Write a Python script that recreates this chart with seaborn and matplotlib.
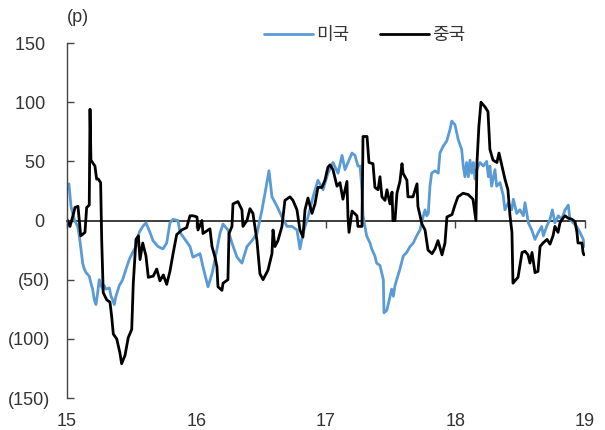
import matplotlib
matplotlib.use("Agg")
import matplotlib.pyplot as plt
import seaborn as sns
import pandas as pd

# ---- data (x in years since 2015 -> axis labels 15..19) ----
us_t = [0.000, 0.015, 0.031, 0.056, 0.083, 0.095, 0.108, 0.121, 0.134, 0.147, 0.172, 0.185,
        0.198, 0.211, 0.224, 0.237, 0.249, 0.263, 0.276, 0.288, 0.301, 0.327, 0.340, 0.353,
        0.365, 0.378, 0.404, 0.430, 0.456, 0.481, 0.507, 0.533, 0.558, 0.585, 0.610,
        0.641, 0.664, 0.703, 0.741, 0.770, 0.795, 0.819, 0.857, 0.873, 0.911, 0.950,
        0.973, 1.027, 1.050, 1.089, 1.120, 1.143, 1.181, 1.205, 1.243, 1.274, 1.313, 1.351,
        1.390, 1.429, 1.467, 1.506, 1.529, 1.560, 1.583, 1.622, 1.660, 1.699, 1.737, 1.776,
        1.799, 1.822, 1.861, 1.900, 1.938, 1.977, 2.015, 2.054, 2.093, 2.124, 2.147, 2.170,
        2.201, 2.224, 2.247, 2.263, 2.276, 2.286, 2.314, 2.340, 2.353, 2.378, 2.391, 2.417,
        2.430, 2.443, 2.448, 2.469, 2.489, 2.507, 2.520, 2.533, 2.546, 2.571, 2.597, 2.623,
        2.649, 2.674, 2.700, 2.726, 2.752, 2.765, 2.778, 2.790, 2.803, 2.816, 2.842, 2.867,
        2.880, 2.906, 2.932, 2.958, 2.971, 2.996, 3.022, 3.048, 3.060, 3.073, 3.086, 3.099,
        3.112, 3.125, 3.138, 3.151, 3.164, 3.189, 3.215, 3.241, 3.254, 3.266, 3.279, 3.305,
        3.318, 3.344, 3.369, 3.382, 3.408, 3.434, 3.447, 3.473, 3.498, 3.524, 3.537, 3.563,
        3.589, 3.614, 3.640, 3.666, 3.679, 3.704, 3.730, 3.748, 3.768, 3.794, 3.820, 3.846,
        3.871, 3.884, 3.910, 3.936, 3.961, 3.987, 3.992]
us_v = [27, 31, 12, 1, -5, -13, -24, -36, -41, -44, -47, -53,
        -58, -67, -71, -61, -50, -55, -58, -55, -58, -57, -64, -67,
        -71, -64, -55, -50, -41, -33, -27, -22, -10, -5, -2,
        -10, -17, -22, -24, -19, -2, 1, 0, -10, -16, -22,
        -31, -28, -39, -56, -45, -33, -11, -3, -8, -19, -31, -36,
        -22, -17, -11, 9, 23, 42, 20, 12, 3, -5, -5, -8,
        -24, -11, 3, 20, 34, 26, 40, 49, 40, 55, 43, 49,
        57, 55, 46, 46, 29, 4, -13, -19, -24, -30, -36, -38,
        -44, -50, -78, -76, -67, -58, -64, -55, -50, -41, -30, -27,
        -22, -19, -13, -8, 4, 9, 4, 6, 29, 40, 42, 40,
        57, 63, 67, 77, 84, 81, 68, 60, 46, 37, 49, 37,
        51, 40, 49, 35, 43, 49, 46, 50, 37, 46, 29, 43,
        29, 32, 21, 9, 15, 9, 18, 6, 9, 4, 15, -2,
        -8, -16, -10, -5, -13, -5, 1, 9, -2, 4, 1, 9,
        13, 1, -2, -5, -10, -16, -22]

cn_t = [0.000, 0.023, 0.036, 0.046, 0.062, 0.085, 0.106, 0.139, 0.152, 0.172, 0.178, 0.185,
        0.216, 0.229, 0.242, 0.260, 0.268, 0.280, 0.307, 0.332, 0.345, 0.358, 0.384, 0.409,
        0.422, 0.448, 0.473, 0.500, 0.512, 0.533, 0.551, 0.564, 0.585, 0.610, 0.628, 0.666,
        0.693, 0.718, 0.744, 0.770, 0.795, 0.821, 0.847, 0.886, 0.924, 0.950, 0.973, 1.004,
        1.012, 1.042, 1.050, 1.104, 1.120, 1.143, 1.158, 1.166, 1.197, 1.205, 1.243, 1.251,
        1.274, 1.282, 1.320, 1.351, 1.359, 1.390, 1.413, 1.436, 1.467, 1.490, 1.514, 1.552,
        1.583, 1.591, 1.606, 1.629, 1.660, 1.683, 1.722, 1.745, 1.776, 1.799, 1.822, 1.838,
        1.861, 1.892, 1.915, 1.938, 1.969, 1.992, 2.015, 2.031, 2.054, 2.085, 2.108, 2.131,
        2.162, 2.170, 2.178, 2.201, 2.239, 2.247, 2.278, 2.286, 2.317, 2.332, 2.363, 2.378,
        2.402, 2.417, 2.432, 2.456, 2.471, 2.494, 2.510, 2.517, 2.533, 2.548, 2.571, 2.587,
        2.595, 2.625, 2.633, 2.672, 2.703, 2.710, 2.741, 2.765, 2.788, 2.819, 2.842, 2.865,
        2.896, 2.919, 2.934, 2.973, 2.996, 3.019, 3.058, 3.097, 3.135, 3.158, 3.166, 3.181,
        3.197, 3.228, 3.251, 3.266, 3.290, 3.320, 3.336, 3.359, 3.382, 3.405, 3.421, 3.436,
        3.444, 3.459, 3.483, 3.514, 3.537, 3.560, 3.575, 3.591, 3.614, 3.637, 3.653, 3.676,
        3.707, 3.730, 3.753, 3.768, 3.792, 3.807, 3.830, 3.846, 3.869, 3.900, 3.923, 3.938,
        3.946, 3.977, 3.985, 3.992]
cn_v = [1, -5, 0, 4, 11, 12, -13, -10, 11, 13, 94, 51,
        46, 35, 35, 32, -16, -61, -67, -69, -81, -96, -100, -112,
        -121, -114, -99, -92, -53, -16, -13, -33, -19, -30, -48, -47,
        -41, -51, -46, -54, -43, -27, -12, -8, -6, 4, 4, 3,
        -8, 0, -11, -7, -22, -31, -39, -56, -59, -53, -50, -11,
        -5, 14, 16, 9, -5, 0, 10, 6, -17, -45, -50, -42,
        -28, -8, -22, -17, -5, 17, 20, 17, 9, -8, -14, 9,
        19, 6, 14, 28, 28, 34, 45, 47, 43, 29, 32, 18,
        33, 3, -10, 8, 4, -5, -5, 71, 71, 49, 48, 28,
        26, 37, 20, 17, 26, 14, 24, 0, 0, 23, 33, 48,
        40, 34, 20, 20, 31, 12, -3, -8, -25, -28, -24, -17,
        -29, -19, 3, 5, 13, 20, 23, 22, 18, 0, 49, 80,
        100, 96, 92, 60, 51, 49, 57, 46, 35, 26, 4, -10,
        -53, -51, -48, -27, -26, -29, -36, -27, -44, -43, -22, -19,
        -16, -20, -13, -5, -10, -2, 2, 4, 2, 1, -1, -10,
        -19, -19, -27, -29]

series_names = ["미국", "중국"]
series_colors = ["#5B9BD5", "#000000"]
x_ticks = [15, 16, 17, 18, 19]
y_ticks = [-150, -100, -50, 0, 50, 100, 150]
unit_label = "(p)"

# ---- figure ----
sns.set_theme(style="white")
plt.rcParams["font.family"] = ["Liberation Sans", "Noto Sans CJK KR", "DejaVu Sans"]

fig = plt.figure(figsize=(6.05, 4.30), dpi=100)
ax = fig.add_axes([0.1107, 0.0744, 0.8562, 0.8256])

df_us = pd.DataFrame({"x": [15 + t for t in us_t], "y": us_v})
df_cn = pd.DataFrame({"x": [15 + t for t in cn_t], "y": cn_v})

sns.lineplot(data=df_us, x="x", y="y", ax=ax, color=series_colors[0], lw=2.0,
             estimator=None, label=series_names[0])
sns.lineplot(data=df_cn, x="x", y="y", ax=ax, color=series_colors[1], lw=2.0,
             estimator=None, label=series_names[1])

ax.set_xlim(15, 19)
ax.set_ylim(-150, 150)
ax.set_xlabel("")
ax.set_ylabel("")

for s in ["top", "right", "bottom"]:
    ax.spines[s].set_visible(False)
ax.spines["left"].set_color("#444444")
ax.spines["left"].set_linewidth(1.0)

ax.set_yticks(y_ticks)
ax.set_yticklabels([f"({abs(v)})" if v < 0 else f"{v} " for v in y_ticks])
ax.tick_params(axis="y", direction="in", length=5, width=1, color="#444444",
               labelsize=13, labelcolor="#333333", pad=12, left=True)

ax.set_xticks(x_ticks)
ax.set_xticklabels([str(v) for v in x_ticks])
ax.tick_params(axis="x", length=0, labelsize=13, labelcolor="#333333", pad=11, bottom=True)

# zero line carrying the x ticks (pointing up)
sec = ax.secondary_xaxis(0.5)
sec.set_xticks(x_ticks)
sec.set_xticklabels([])
sec.tick_params(axis="x", direction="in", length=5, width=1, color="#444444")
sec.spines["bottom"].set_color("#444444")
sec.spines["bottom"].set_linewidth(1.0)

fig.text(0.128, 0.960, unit_label, ha="center", va="center", fontsize=13, color="#333333")

leg = ax.legend(loc="center", bbox_to_anchor=(0.603, 0.917), bbox_transform=fig.transFigure,
                ncol=2, frameon=False, fontsize=13, handlelength=2.7, columnspacing=1.7,
                handletextpad=0.2)
for t in leg.get_texts():
    t.set_color("#333333")

fig.savefig("out.png", dpi=100)
